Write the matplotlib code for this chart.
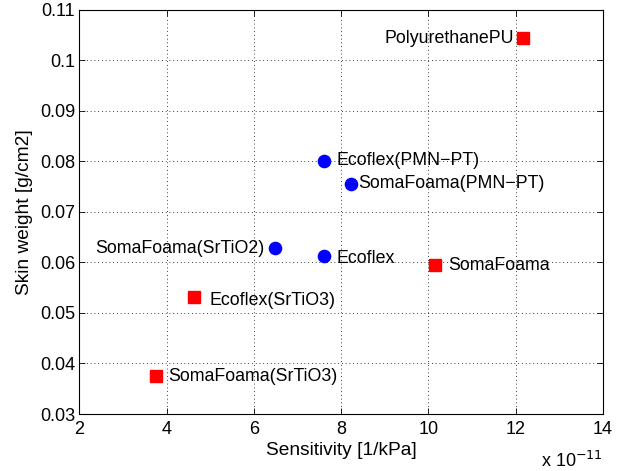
import matplotlib.pyplot as plt

plt.rcParams['font.family'] = ['Liberation Sans', 'DejaVu Sans']

# Sensitivity in units of 1e-11 1/kPa, skin weight in g/cm2
square_names = ['PolyurethanePU', 'SomaFoama', 'Ecoflex(SrTiO3)', 'SomaFoama(SrTiO3)']
square_x = [12.16, 10.16, 4.64, 3.76]
square_y = [0.1045, 0.0595, 0.0531, 0.0376]

circle_names = ['Ecoflex(PMN\u2212PT)', 'SomaFoama(PMN\u2212PT)', 'SomaFoama(SrTiO2)', 'Ecoflex']
circle_x = [7.62, 8.22, 6.48, 7.62]
circle_y = [0.0801, 0.0756, 0.0628, 0.0612]

# label offsets in pixels and alignment
square_offsets = [(-9, -1, 'right'), (13, -1, 'left'), (15, -3, 'left'), (12, -1, 'left')]
circle_offsets = [(12, 0, 'left'), (8, 0, 'left'), (-10, 0, 'right'), (12, -2, 'left')]

fig = plt.figure(figsize=(6.24, 4.71), dpi=100)
ax = fig.add_axes([0.127, 0.121, 0.839, 0.858])

ax.plot(circle_x, circle_y, 'o', color='#0000ff', markersize=8.8, linestyle='none')
ax.plot(square_x, square_y, 's', color='#ff0000', markersize=8.8, linestyle='none')

for name, x, y, (dx, dy, ha) in zip(square_names, square_x, square_y, square_offsets):
    ax.annotate(name, (x, y), xytext=(dx, dy), textcoords='offset pixels',
                ha=ha, va='center', fontsize=12.8)
for name, x, y, (dx, dy, ha) in zip(circle_names, circle_x, circle_y, circle_offsets):
    ax.annotate(name, (x, y), xytext=(dx, dy), textcoords='offset pixels',
                ha=ha, va='center', fontsize=12.8)

ax.set_xlim(2, 14)
ax.set_ylim(0.03, 0.11)
ax.set_xticks(range(2, 15, 2))
ax.set_yticks([0.03, 0.04, 0.05, 0.06, 0.07, 0.08, 0.09, 0.1, 0.11])
ax.set_yticklabels(['0.03', '0.04', '0.05', '0.06', '0.07', '0.08', '0.09', '0.1', '0.11'])

ax.grid(True, color='black', linestyle=(0, (1, 3.5)), linewidth=0.6)
ax.tick_params(direction='in', top=True, right=True, labelsize=13, length=4, width=0.6)
ax.tick_params(axis='x', pad=5)
ax.tick_params(axis='y', pad=3)
for s in ax.spines.values():
    s.set_linewidth(0.8)

ax.set_xlabel('Sensitivity [1/kPa]', fontsize=13.8, labelpad=3)
ax.set_ylabel('Skin weight [g/cm2]', fontsize=13.8, labelpad=5)
ax.text(1.0, -0.092, 'x 10$^{-11}$', transform=ax.transAxes, ha='right', va='top', fontsize=13)

fig.savefig('out.png', dpi=100)
